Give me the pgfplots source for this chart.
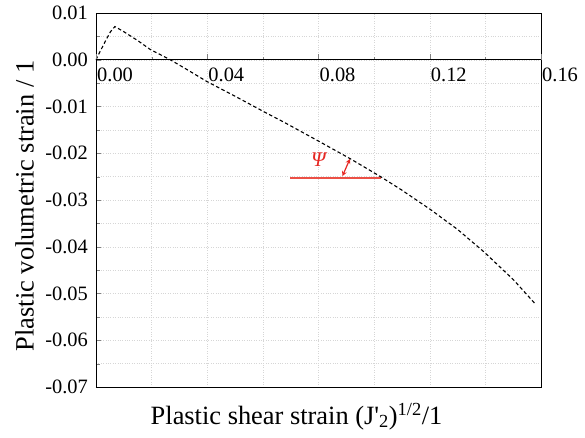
\documentclass[border=0pt]{standalone}
\usepackage{pgfplots}
\pgfplotsset{compat=1.18}
\usepackage{fontspec}
\setmainfont{Liberation Serif}
\definecolor{annred}{RGB}{230,40,35}
\definecolor{psiline}{RGB}{236,80,70}
\begin{document}
\begin{tikzpicture}
\begin{axis}[
  width=445bp, height=374bp, scale only axis,
  xmin=0, xmax=0.16, ymin=-0.07, ymax=0.01,
  scaled x ticks=false, scaled y ticks=false,
  xtick={0,0.04,0.08,0.12,0.16}, minor x tick num=1,
  xticklabels={}, x tick style={draw=none},
  ytick={-0.07,-0.06,-0.05,-0.04,-0.03,-0.02,-0.01,0,0.01},
  yticklabels={-0.07,-0.06,-0.05,-0.04,-0.03,-0.02,-0.01,0.00,0.01},
  minor y tick num=1,
  ytick pos=left, tick align=inside,
  major tick length=5bp, minor tick length=4bp,
  grid=both,
  major grid style={dotted, black!16},
  minor grid style={dotted, black!16},
  axis line style={black, line width=0.9bp},
  yticklabel style={font=\fontsize{20.5}{21}\selectfont, inner sep=0pt, anchor=east, xshift=-8bp},
  ylabel={Plastic volumetric strain / 1},
  ylabel style={font=\fontsize{26.5}{28}\selectfont, inner sep=0pt, at={(axis description cs:-0.139,0.484)}, anchor=south},
  xlabel={Plastic shear strain (J\textquotesingle\textsubscript{2})\textsuperscript{1/2}/1},
  xlabel style={font=\fontsize{26.5}{28}\selectfont, inner sep=0pt, at={(axis description cs:0.4506,-0.099)}, anchor=base},
  clip=false,
]
\addplot[psiline, solid, line width=1.6bp, mark=none] coordinates {(0.0699,-0.02525) (0.1023,-0.02525)};
\addplot[black, line width=1.1bp, dash pattern=on 3.5bp off 2.5bp] coordinates {
  (0,0) (0.0015,0.0018) (0.0034,0.0040) (0.0052,0.0060) (0.0068,0.0071)
  (0.0100,0.0060) (0.0150,0.0041) (0.0195,0.0022) (0.0267,0.0)
  (0.0330,-0.0022) (0.0400,-0.0047) (0.0500,-0.0078) (0.0600,-0.0110)
  (0.0674,-0.0133) (0.0800,-0.0174) (0.0915,-0.0212) (0.1023,-0.0250)
  (0.1100,-0.0279) (0.1204,-0.0321) (0.1300,-0.0363) (0.1395,-0.0411)
  (0.1500,-0.0470) (0.1582,-0.0524)
};
\addplot[annred, solid, line width=1.2bp, mark=none, <->, >=stealth] coordinates {(0.0886,-0.0249) (0.0913,-0.0212)};
\node[text=annred, font=\fontsize{21}{22}\selectfont\itshape] at (axis cs:0.0800,-0.0213) {Ψ};
\end{axis}
\begin{axis}[
  width=445bp, height=374bp, scale only axis,
  xmin=0, xmax=0.16, ymin=-0.07, ymax=0.01,
  scaled x ticks=false,
  axis x line=middle, axis y line=none,
  x axis line style={-, black, line width=0.9bp},
  xtick={0,0.04,0.08,0.12,0.16}, minor x tick num=1,
  xticklabels={0.00,0.04,0.08,0.12,0.16},
  xtick align=inside,
  major tick length=6bp, minor tick length=3bp,
  xticklabel style={font=\fontsize{20.5}{21}\selectfont, inner sep=0pt, anchor=north west, xshift=1bp, yshift=-8bp},
]
\coordinate (bl) at (rel axis cs:0,0);
\coordinate (tr) at (rel axis cs:1,1);
\end{axis}
\pgfresetboundingbox
\path[use as bounding box] ([shift={(-96bp,-51bp)}]bl) rectangle ([shift={(44bp,13bp)}]tr);
\end{tikzpicture}
\end{document}
